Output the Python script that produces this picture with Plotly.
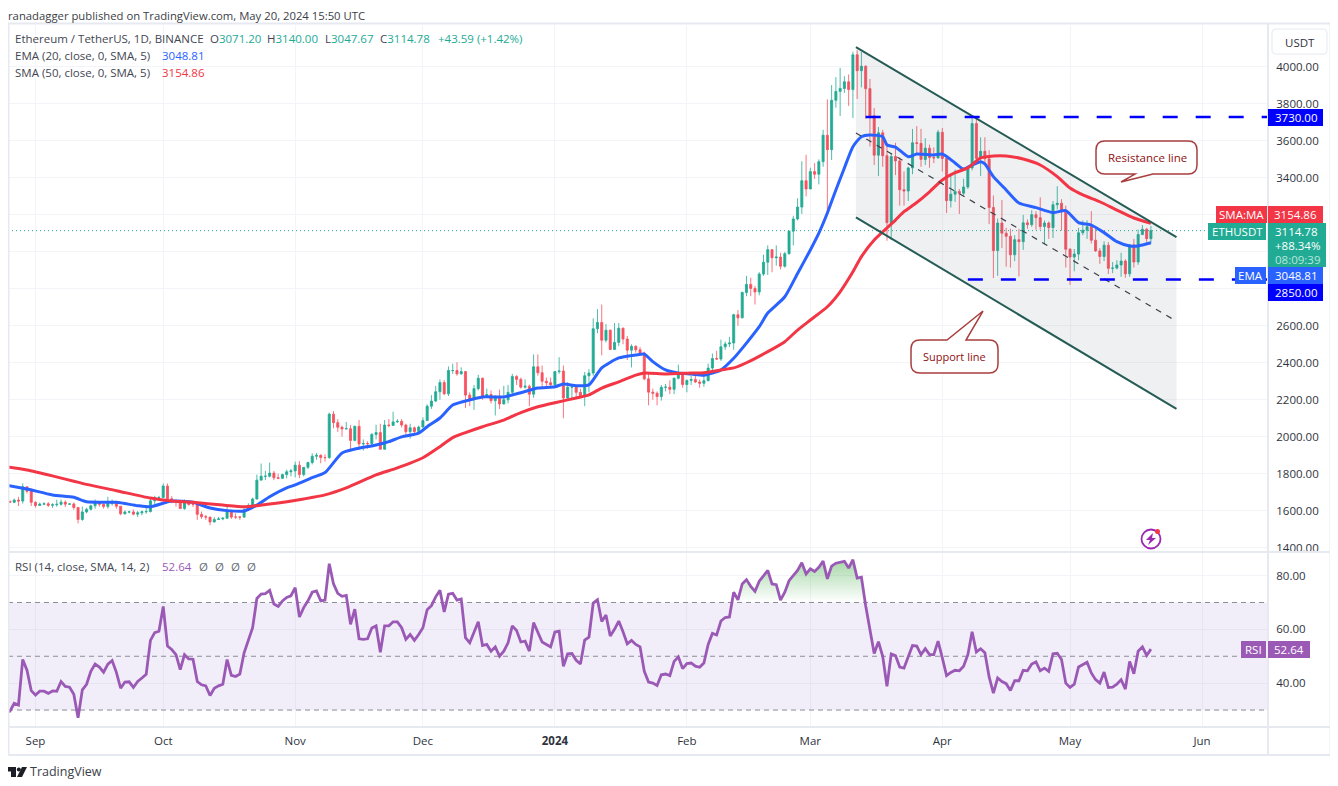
import pandas as pd
import plotly.graph_objects as go
from plotly.subplots import make_subplots

# ── Daily candles (2023-08-25 → 2024-05-20) ────────────────────────────────────
opens = [
    1662, 1651, 1645, 1657, 1652, 1729, 1705,
    1645, 1628, 1635, 1637, 1629, 1632, 1634, 1646, 1635, 1636, 1617, 1552, 1593, 1607, 1626, 1642, 1634, 1622, 1638, 1645, 1624, 1583, 1593, 1593, 1581, 1588, 1594, 1595, 1653, 1670,
    1671, 1733, 1664, 1656, 1647, 1611, 1646, 1633, 1633, 1580, 1567, 1565, 1539, 1552, 1555, 1559, 1600, 1565, 1565, 1565, 1604, 1628, 1663, 1765, 1786, 1786, 1803, 1778, 1775, 1795, 1810,
    1815, 1846, 1795, 1834, 1860, 1894, 1899, 1887, 1887, 2122, 2076, 2051, 2042, 2043, 1980, 2056, 1961, 1963, 1962, 2012, 2022, 1932, 2063, 2061, 2080, 2083, 2063, 2027, 2048, 2028,
    2052, 2087, 2165, 2193, 2243, 2293, 2232, 2358, 2358, 2340, 2352, 2225, 2202, 2260, 2316, 2220, 2228, 2195, 2218, 2177, 2200, 2240, 2326, 2310, 2268, 2273, 2230, 2378, 2346, 2300, 2292,
    2281, 2352, 2355, 2209, 2268, 2268, 2240, 2221, 2330, 2344, 2584, 2618, 2522, 2576, 2472, 2510, 2587, 2528, 2468, 2489, 2470, 2453, 2313, 2241, 2235, 2217, 2267, 2268, 2256, 2316, 2343,
    2282, 2304, 2309, 2296, 2289, 2303, 2371, 2423, 2420, 2486, 2502, 2507, 2660, 2643, 2780, 2824, 2802, 2783, 2880, 2944, 3012, 2968, 2972, 2922, 2990, 3112, 3178, 3242, 3385,
    3340, 3434, 3420, 3488, 3631, 3553, 3820, 3868, 3884, 3920, 3878, 4066, 3980, 4004, 3883, 3736, 3523, 3644, 3520, 3158, 3516, 3492, 3336, 3329, 3454, 3590, 3587, 3500, 3561, 3510, 3508,
    3647, 3505, 3277, 3312, 3327, 3317, 3351, 3454, 3694, 3506, 3544, 3503, 3240, 3007, 3156, 3101, 3084, 2984, 3066, 3055, 3157, 3147, 3201, 3185, 3137, 3156, 3131, 3255, 3263, 3216,
    3014, 2972, 2988, 3103, 3117, 3136, 3063, 3005, 2975, 3036, 2911, 2912, 2929, 2950, 2881, 3038, 2945, 3094, 3122, 3071.20,
]
highs = [
    1675, 1653, 1665, 1675, 1748, 1730, 1720,
    1650, 1644, 1645, 1646, 1640, 1659, 1660, 1655, 1641, 1644, 1620, 1622, 1616, 1632, 1660, 1648, 1638, 1675, 1660, 1650, 1624, 1602, 1600, 1606, 1598, 1600, 1630, 1670, 1680, 1680,
    1747, 1747, 1678, 1658, 1655, 1660, 1650, 1648, 1635, 1595, 1577, 1566, 1565, 1566, 1565, 1625, 1605, 1585, 1570, 1620, 1640, 1670, 1795, 1855, 1815, 1860, 1815, 1800, 1800, 1822, 1826,
    1865, 1868, 1835, 1865, 1910, 1912, 1905, 1905, 2130, 2138, 2095, 2060, 2080, 2063, 2060, 2090, 1985, 1975, 2020, 2065, 2070, 2090, 2095, 2135, 2095, 2095, 2070, 2070, 2055, 2060,
    2105, 2175, 2225, 2275, 2310, 2307, 2380, 2395, 2403, 2375, 2355, 2240, 2280, 2335, 2320, 2260, 2250, 2225, 2255, 2275, 2280, 2340, 2333, 2320, 2310, 2282, 2445, 2445, 2385, 2320, 2320,
    2355, 2430, 2385, 2295, 2285, 2270, 2260, 2350, 2365, 2640, 2690, 2715, 2610, 2580, 2615, 2615, 2590, 2545, 2500, 2495, 2485, 2460, 2350, 2260, 2245, 2280, 2285, 2305, 2320, 2390, 2350,
    2310, 2330, 2330, 2310, 2335, 2395, 2450, 2465, 2525, 2515, 2540, 2665, 2685, 2785, 2870, 2860, 2815, 2890, 2985, 3035, 3015, 3035, 2995, 3000, 3115, 3195, 3290, 3490, 3525,
    3455, 3480, 3500, 3660, 3825, 3902, 3945, 3995, 3950, 3960, 4083, 4090, 4081, 4010, 3935, 3778, 3675, 3660, 3590, 3535, 3590, 3510, 3435, 3460, 3665, 3680, 3665, 3615, 3580, 3565, 3660,
    3670, 3505, 3425, 3445, 3340, 3395, 3460, 3735, 3725, 3620, 3620, 3550, 3305, 3180, 3280, 3130, 3125, 3090, 3125, 3200, 3175, 3225, 3220, 3295, 3170, 3165, 3275, 3355, 3285, 3250,
    3020, 3015, 3130, 3170, 3170, 3220, 3125, 3020, 3057, 3053, 2945, 2955, 2995, 2960, 3040, 3070, 3120, 3145, 3130, 3140.00,
]
lows = [
    1640, 1642, 1640, 1625, 1638, 1693, 1625,
    1616, 1626, 1630, 1620, 1615, 1621, 1627, 1620, 1632, 1605, 1531, 1545, 1585, 1601, 1610, 1621, 1610, 1610, 1627, 1610, 1575, 1578, 1585, 1575, 1565, 1575, 1583, 1590, 1620, 1665,
    1667, 1650, 1640, 1622, 1610, 1605, 1627, 1620, 1550, 1555, 1550, 1521, 1535, 1549, 1548, 1555, 1555, 1555, 1550, 1560, 1600, 1610, 1660, 1765, 1765, 1780, 1765, 1770, 1770, 1775, 1785,
    1780, 1775, 1785, 1825, 1850, 1875, 1856, 1865, 1880, 2045, 2026, 2000, 2042, 1930, 1975, 1930, 1925, 1935, 1950, 1985, 1930, 1930, 2050, 2060, 2075, 2050, 2000, 1990, 2020, 2020,
    2050, 2085, 2150, 2187, 2200, 2225, 2220, 2340, 2330, 2335, 2155, 2165, 2145, 2250, 2200, 2215, 2180, 2115, 2150, 2175, 2180, 2230, 2280, 2260, 2260, 2165, 2210, 2330, 2260, 2270, 2260,
    2265, 2340, 2100, 2205, 2200, 2210, 2210, 2165, 2240, 2330, 2560, 2440, 2510, 2470, 2470, 2490, 2500, 2415, 2375, 2455, 2450, 2305, 2170, 2200, 2170, 2195, 2245, 2230, 2230, 2310, 2265,
    2240, 2280, 2290, 2265, 2270, 2300, 2340, 2415, 2410, 2470, 2485, 2470, 2600, 2640, 2760, 2760, 2715, 2765, 2870, 2875, 2890, 2925, 2905, 2915, 2985, 3035, 3170, 3205, 3300,
    3340, 3395, 3365, 3460, 3200, 3497, 3780, 3735, 3860, 3790, 3724, 3827, 3890, 3720, 3570, 3470, 3410, 3460, 3060, 3064, 3415, 3250, 3250, 3275, 3420, 3530, 3460, 3470, 3455, 3480, 3505,
    3435, 3210, 3240, 3270, 3205, 3305, 3340, 3440, 3480, 3410, 3475, 3150, 2858, 2870, 3020, 2920, 2915, 2950, 2867, 3010, 3125, 3135, 3120, 3120, 3040, 3070, 3075, 3230, 3115, 2915,
    2821, 2895, 2955, 3090, 3070, 3045, 3000, 2935, 2950, 2880, 2885, 2905, 2865, 2860, 2865, 2915, 2930, 3090, 3050, 3047.67,
]
closes = [
    1651, 1645, 1657, 1652, 1729, 1705, 1645,
    1628, 1635, 1637, 1629, 1632, 1634, 1646, 1635, 1636, 1617, 1552, 1593, 1607, 1626, 1642, 1634, 1622, 1638, 1645, 1624, 1583, 1593, 1593, 1581, 1588, 1594, 1595, 1653, 1670, 1671,
    1733, 1664, 1656, 1647, 1611, 1646, 1633, 1633, 1580, 1567, 1565, 1539, 1552, 1555, 1559, 1600, 1565, 1565, 1565, 1604, 1628, 1663, 1765, 1786, 1786, 1803, 1778, 1775, 1795, 1810, 1815,
    1846, 1795, 1834, 1860, 1894, 1899, 1887, 1887, 2122, 2076, 2051, 2042, 2043, 1980, 2056, 1961, 1963, 1962, 2012, 2022, 1932, 2063, 2061, 2080, 2083, 2063, 2027, 2048, 2028, 2052,
    2087, 2165, 2193, 2243, 2293, 2232, 2358, 2358, 2340, 2352, 2225, 2202, 2260, 2316, 2220, 2228, 2195, 2218, 2177, 2200, 2240, 2326, 2310, 2268, 2273, 2230, 2378, 2346, 2300, 2292, 2281,
    2352, 2355, 2209, 2268, 2268, 2240, 2221, 2330, 2344, 2584, 2618, 2522, 2576, 2472, 2510, 2587, 2528, 2468, 2489, 2470, 2453, 2313, 2241, 2235, 2217, 2267, 2268, 2256, 2316, 2343, 2282,
    2304, 2309, 2296, 2289, 2303, 2371, 2423, 2420, 2486, 2502, 2507, 2660, 2643, 2780, 2824, 2802, 2783, 2880, 2944, 3012, 2968, 2972, 2922, 2990, 3112, 3178, 3242, 3385, 3340,
    3434, 3420, 3488, 3631, 3553, 3820, 3868, 3884, 3920, 3878, 4066, 3980, 4004, 3883, 3736, 3523, 3644, 3520, 3158, 3516, 3492, 3336, 3329, 3454, 3590, 3587, 3500, 3561, 3510, 3508, 3647,
    3505, 3277, 3312, 3327, 3317, 3351, 3454, 3694, 3506, 3544, 3503, 3240, 3007, 3156, 3101, 3084, 2984, 3066, 3055, 3157, 3147, 3201, 3185, 3137, 3156, 3131, 3255, 3263, 3216, 3014,
    2972, 2988, 3103, 3117, 3136, 3063, 3005, 2975, 3036, 2911, 2912, 2929, 2950, 2881, 3038, 2945, 3094, 3122, 3071.20, 3114.78,
]
rsi = [
    29.4, 29.6, 32.5, 31.9, 48.8, 44.8, 37.2,
    35.6, 37, 37, 36.2, 37.1, 37, 40.6, 38.8, 38.5, 35.9, 27.1, 37.5, 39.6, 44.4, 47.1, 46, 44.1, 47.1, 48.4, 44, 38.1, 40.4, 40.5, 38.4, 40.6, 41.9, 43.3, 55.9, 58.8, 59.3,
    68.5, 53.8, 52.5, 50.6, 45, 50.6, 49, 48.9, 40.6, 39.4, 39, 35.4, 38.1, 39, 39.6, 48.8, 42.9, 42.5, 43.4, 51.3, 56.3, 60.6, 71.5, 73.1, 73.3, 74.5, 69.4, 68.5, 70.6, 71.9, 72.5,
    75.5, 64.6, 68.1, 70.6, 73.8, 74.3, 70.6, 70.9, 84.4, 76.9, 73.4, 72.3, 72.6, 61.9, 67.5, 56.5, 56.3, 56.5, 60.5, 61.3, 51.5, 61.3, 61.3, 62.8, 62.8, 60.6, 56.3, 58.1, 55.9, 58.1,
    60.6, 67.3, 68.8, 72.1, 74.5, 66.5, 73.1, 73.4, 70.9, 71.3, 56.9, 55, 59, 62.8, 54, 54.4, 51.9, 53.5, 50, 51.9, 55, 61.3, 59.6, 55.3, 55.6, 51.9, 62.5, 58.8, 55.3, 54.4, 53.5,
    59, 59.3, 46.3, 50.9, 51, 48.5, 47.1, 56, 57.1, 69.8, 71, 62.9, 65.3, 57.5, 60, 63.1, 59.1, 54.6, 55.9, 54.4, 53.5, 44.4, 40.4, 40, 39.1, 43.1, 43.4, 42.8, 48.1, 49.8, 45.4,
    47.3, 47.5, 46.3, 45.9, 47.5, 54.4, 58.5, 57.9, 63.1, 64.4, 64.6, 73.8, 71, 76.9, 78.5, 76, 74.1, 77.9, 80, 81.9, 76.9, 76.6, 70.9, 73.8, 78.1, 80, 81.9, 84.8, 80.6,
    82.5, 81.5, 83.1, 85.4, 78.8, 83.5, 84.6, 85, 85.3, 82.8, 85.9, 79.1, 79.4, 68.8, 60, 51, 55.4, 50, 38.8, 50.9, 50.3, 46, 45.6, 49.8, 54, 53.8, 50.6, 52.8, 50.6, 50.6, 55.6,
    49.4, 42.8, 44, 44.8, 44.6, 46.3, 50.6, 59.1, 51.6, 52.8, 51.3, 42.3, 36.3, 41.9, 40.6, 39.8, 37.3, 40.9, 40.9, 44.8, 44.6, 47.1, 47.9, 44.6, 45.6, 44.4, 50.9, 51.1, 48.8, 40,
    38.4, 39.6, 46, 46.9, 47.8, 43.8, 41.3, 40, 44.1, 38.4, 38.5, 39.6, 41.3, 37.8, 48.1, 43.5, 51.9, 53.5, 50.3, 52.64,
]
dates = pd.date_range("2023-08-25", periods=len(closes), freq="D")

# ── Moving averages, sampled along the drawn lines ─────────────────────────────
ema_dates = [
    "2023-08-25", "2023-08-30", "2023-09-05", "2023-09-10", "2023-09-13", "2023-09-20", "2023-09-25", "2023-09-28",
    "2023-10-03", "2023-10-08", "2023-10-12", "2023-10-16", "2023-10-20", "2023-10-23", "2023-10-26", "2023-10-30",
    "2023-11-01", "2023-11-05", "2023-11-08", "2023-11-12", "2023-11-15", "2023-11-20", "2023-11-23", "2023-11-26",
    "2023-11-30", "2023-12-02", "2023-12-05", "2023-12-08", "2023-12-11", "2023-12-15", "2023-12-20", "2023-12-24",
    "2023-12-28", "2024-01-01", "2024-01-03", "2024-01-06", "2024-01-09", "2024-01-12", "2024-01-16", "2024-01-20",
    "2024-01-22", "2024-01-24", "2024-01-27", "2024-01-30", "2024-02-02", "2024-02-05", "2024-02-07", "2024-02-09",
    "2024-02-12", "2024-02-15", "2024-02-18", "2024-02-20", "2024-02-24", "2024-02-27", "2024-03-01", "2024-03-03",
    "2024-03-05", "2024-03-07", "2024-03-09", "2024-03-11", "2024-03-13", "2024-03-15", "2024-03-18", "2024-03-19",
    "2024-03-21", "2024-03-24", "2024-03-26", "2024-03-30", "2024-04-01", "2024-04-04", "2024-04-06", "2024-04-08",
    "2024-04-10", "2024-04-11", "2024-04-13", "2024-04-16", "2024-04-19", "2024-04-23", "2024-04-27", "2024-04-30",
    "2024-05-03", "2024-05-06", "2024-05-09", "2024-05-12", "2024-05-15", "2024-05-17", "2024-05-20",
]
ema_values = [
    1738, 1717, 1685, 1672, 1648, 1645, 1627, 1621,
    1652, 1645, 1614, 1600, 1598, 1630, 1675, 1723,
    1739, 1778, 1806, 1912, 1933, 1955, 1973, 1999,
    2019, 2054, 2101, 2171, 2193, 2215, 2215, 2238,
    2263, 2270, 2285, 2276, 2280, 2372, 2426, 2442,
    2447, 2406, 2361, 2344, 2339, 2333, 2344, 2361,
    2424, 2506, 2595, 2669, 2757, 2883, 3010, 3101,
    3210, 3335, 3454, 3569, 3623, 3632, 3623, 3578,
    3567, 3515, 3529, 3524, 3529, 3481, 3448, 3470,
    3488, 3476, 3407, 3335, 3264, 3239, 3212, 3223,
    3158, 3145, 3104, 3055, 3032, 3032, 3048.81,
]
sma_dates = [
    "2023-08-25", "2023-08-30", "2023-09-05", "2023-09-13", "2023-09-20", "2023-09-28", "2023-10-03", "2023-10-08",
    "2023-10-15", "2023-10-20", "2023-10-23", "2023-10-28", "2023-11-03", "2023-11-08", "2023-11-13", "2023-11-20",
    "2023-11-25", "2023-12-01", "2023-12-05", "2023-12-08", "2023-12-11", "2023-12-15", "2023-12-20", "2023-12-24",
    "2023-12-28", "2024-01-01", "2024-01-06", "2024-01-09", "2024-01-12", "2024-01-16", "2024-01-20", "2024-01-22",
    "2024-01-27", "2024-02-02", "2024-02-05", "2024-02-09", "2024-02-12", "2024-02-15", "2024-02-20", "2024-02-24",
    "2024-02-27", "2024-03-01", "2024-03-05", "2024-03-08", "2024-03-11", "2024-03-13", "2024-03-16", "2024-03-19",
    "2024-03-21", "2024-03-23", "2024-03-26", "2024-03-29", "2024-04-01", "2024-04-04", "2024-04-07", "2024-04-10",
    "2024-04-13", "2024-04-16", "2024-04-20", "2024-04-24", "2024-04-28", "2024-05-01", "2024-05-04", "2024-05-08",
    "2024-05-12", "2024-05-16", "2024-05-20",
]
sma_values = [
    1838, 1820, 1788, 1742, 1708, 1668, 1652, 1645,
    1630, 1621, 1627, 1641, 1663, 1685, 1723, 1793,
    1831, 1886, 1946, 1995, 2022, 2054, 2090, 2130,
    2162, 2184, 2209, 2226, 2263, 2297, 2333, 2344,
    2339, 2344, 2346, 2361, 2372, 2400, 2460, 2514,
    2577, 2631, 2703, 2784, 2892, 2974, 3064, 3129,
    3172, 3217, 3267, 3325, 3389, 3428, 3454, 3508,
    3519, 3519, 3502, 3470, 3407, 3345, 3308, 3271,
    3226, 3183, 3154.86,
]

# ── Drawn levels and channel ───────────────────────────────────────────────────
channel_dates = ["2024-03-11 17:00", "2024-05-26"]
channel_upper = [4108, 3080]
channel_lower = [3187, 2150]
channel_mid_dates = ["2024-03-11 17:00", "2024-05-25 12:00"]
channel_mid = [3643, 2631]
resistance_start = "2024-03-14"
resistance_level = 3730
support_start = "2024-04-07"
support_level = 2850
last_close = 3114.78

# ── Axes ───────────────────────────────────────────────────────────────────────
x_start = "2023-08-25 13:00"
x_end = "2024-06-16 12:00"
month_ticks = ["2023-09-01", "2023-10-01", "2023-11-01", "2023-12-01", "2024-01-01",
               "2024-02-01", "2024-03-01", "2024-04-01", "2024-05-01", "2024-06-01"]
month_labels = ["Sep", "Oct", "Nov", "Dec", "<b>2024</b>", "Feb", "Mar", "Apr", "May", "Jun"]
price_ticks = [1400, 1600, 1800, 2000, 2200, 2400, 2600, 2800, 3000, 3200, 3400, 3600, 3800, 4000]
hidden_price_labels = [2800, 3000, 3200]  # sit behind the axis tags in the reference
rsi_ticks = [40, 60, 80]
rsi_levels = [70, 50, 30]

GREEN = "#22ab94"
RED = "#f7525f"
BLUE = "#2962ff"
SMA_RED = "#f23645"
PURPLE = "#9b59b6"
LINE_BLUE = "#0000ff"
TEAL = "#255b55"
GRID = "#f3f4f7"
FRAME = "#e6e9f0"
TEXT = "#434651"
AXIS_TEXT = "#2f3340"
FONT = "Open Sans"

# the page keeps an 8px body margin, and the photo squeezes it by about 790:786
W, H = 1322, 778
PAGE_STRETCH = 790 / 786


def px(x):
    return (x - 8) / W


def py(y):
    return 1 - (y * PAGE_STRETCH - 8) / H


def path(*parts):
    """Build an SVG path from commands and (x, y) page pixels."""
    out = []
    for p in parts:
        out.append(p if isinstance(p, str) else f"{px(p[0]):.5f},{py(p[1]):.5f}")
    return " ".join(out)


fig = make_subplots(rows=2, cols=1, shared_xaxes=True)

# channel fill and RSI band go first so the candles sit on top
fig.add_trace(go.Scatter(
    x=channel_dates + channel_dates[::-1],
    y=channel_upper + channel_lower[::-1],
    fill="toself", fillcolor="rgba(100,110,130,0.10)", mode="none", hoverinfo="skip",
), row=1, col=1)
fig.add_trace(go.Scatter(
    x=[x_start, x_end], y=[last_close, last_close], mode="lines",
    line=dict(color=GREEN, width=1, dash="1px,3px"), hoverinfo="skip",
), row=1, col=1)
fig.add_trace(go.Candlestick(
    x=dates, open=opens, high=highs, low=lows, close=closes,
    increasing=dict(line=dict(color=GREEN, width=0.8), fillcolor=GREEN),
    decreasing=dict(line=dict(color=RED, width=0.8), fillcolor=RED),
), row=1, col=1)
fig.add_trace(go.Scatter(x=ema_dates, y=ema_values, mode="lines",
                         line=dict(color=BLUE, width=3, shape="spline", smoothing=0.6)), row=1, col=1)
fig.add_trace(go.Scatter(x=sma_dates, y=sma_values, mode="lines",
                         line=dict(color=SMA_RED, width=3, shape="spline", smoothing=0.6)), row=1, col=1)
for upper_or_lower in (channel_upper, channel_lower):
    fig.add_trace(go.Scatter(x=channel_dates, y=upper_or_lower, mode="lines",
                             line=dict(color=TEAL, width=2)), row=1, col=1)
fig.add_trace(go.Scatter(x=channel_mid_dates, y=channel_mid, mode="lines",
                         line=dict(color="#3c3f48", width=1.2, dash="6px,6px")), row=1, col=1)
for start, level in ((resistance_start, resistance_level), (support_start, support_level)):
    fig.add_trace(go.Scatter(x=[start, x_end], y=[level, level], mode="lines",
                             line=dict(color=LINE_BLUE, width=2.5, dash="15px,18px")), row=1, col=1)

# RSI pane
fig.add_trace(go.Scatter(
    x=[x_start, x_end, x_end, x_start], y=[70, 70, 30, 30],
    fill="toself", fillcolor="rgba(126,87,194,0.10)", mode="none", hoverinfo="skip",
), row=2, col=1)
for level in rsi_levels:
    fig.add_trace(go.Scatter(x=[x_start, x_end], y=[level, level], mode="lines",
                             line=dict(color="#8a8d96", width=1, dash="5px,4px")), row=2, col=1)
# overbought glow: barely there in 2023, strong from February on
split = list(dates).index(pd.Timestamp("2024-01-01"))
for part, alpha in ((range(0, split), 0.10), (range(split, len(rsi)), 0.5)):
    part_dates = [dates[i] for i in part]
    fig.add_trace(go.Scatter(x=part_dates, y=[70] * len(part_dates), mode="lines", line=dict(width=0),
                             hoverinfo="skip"), row=2, col=1)
    fig.add_trace(go.Scatter(
        x=part_dates, y=[max(rsi[i], 70) for i in part], mode="lines", line=dict(width=0), hoverinfo="skip",
        fill="tonexty",
        fillgradient=dict(type="vertical",
                          colorscale=[[0, "rgba(76,175,80,0.0)"], [1, f"rgba(76,175,80,{alpha})"]]),
    ), row=2, col=1)
fig.add_trace(go.Scatter(x=dates, y=rsi, mode="lines", line=dict(color=PURPLE, width=2.8)), row=2, col=1)

# ── Text and tags ──────────────────────────────────────────────────────────────
annotations = []
shapes = []


def label(x, y, text, size=11.5, color=TEXT, anchor="left"):
    annotations.append(dict(
        x=px(x), y=py(y), xref="paper", yref="paper", text=text, showarrow=False,
        xanchor=anchor, yanchor="middle", align=anchor, xshift=0, borderpad=0, borderwidth=0,
        font=dict(family=FONT, size=size, color=color),
    ))


def tag(x0, x1, y0, y1, color, text, text_color="white"):
    shapes.append(dict(type="rect", xref="paper", yref="paper", x0=px(x0), x1=px(x1),
                       y0=py(y1), y1=py(y0), fillcolor=color, line=dict(width=0), layer="above"))
    if text:
        label((x0 + x1) / 2, (y0 + y1) / 2, text, size=11.5, color=text_color, anchor="center")


def num(text, color=GREEN):
    return f'<span style="color:{color}">{text}</span>'


# frame and pane separators
shapes.append(dict(type="rect", xref="paper", yref="paper", x0=px(8.5), x1=px(1330.5),
                   y0=py(755), y1=py(23.5), line=dict(color=FRAME, width=2), layer="above"))
for yy in (552, 727):
    shapes.append(dict(type="line", xref="paper", yref="paper", x0=px(8.5), x1=px(1330.5),
                       y0=py(yy), y1=py(yy), line=dict(color=FRAME, width=2), layer="above"))
shapes.append(dict(type="line", xref="paper", yref="paper", x0=px(1268), x1=px(1268),
                   y0=py(755), y1=py(23.5), line=dict(color=FRAME, width=2), layer="above"))

label(8, 15.5, "ranadagger published on TradingView.com, May 20, 2024 15:50 UTC", size=11.3, color="#3b3e47")
label(15, 38, "Ethereum / TetherUS, 1D, BINANCE")
label(210, 38, "O" + num("3071.20"))
label(267, 38, "H" + num("3140.00"))
label(325, 38, "L" + num("3047.67"))
label(380, 38, "C" + num("3114.78"))
label(438, 38, num("+43.59 (+1.42%)"))
label(15, 55, "EMA (20, close, 0, SMA, 5)")
label(162, 55, num("3048.81", BLUE))
label(15, 72, "SMA (50, close, 0, SMA, 5)")
label(162, 72, num("3154.86", SMA_RED))
label(15, 567, "RSI (14, close, SMA, 14, 2)")
label(162, 567, num("52.64", PURPLE))
for xx in (199, 215, 231, 247):
    label(xx, 567, "Ø", color="#6a6d78")

# USDT button
shapes.append(dict(type="path", xref="paper", yref="paper", layer="above",
                   path=path("M", (1276, 29), "L", (1323, 29), "Q", (1327, 29), (1327, 33), "L", (1327, 50),
                             "Q", (1327, 54), (1323, 54), "L", (1276, 54), "Q", (1272, 54), (1272, 50),
                             "L", (1272, 33), "Q", (1272, 29), (1276, 29), "Z"),
                   fillcolor="white", line=dict(color=FRAME, width=1)))
label(1299.5, 42, "USDT", color=AXIS_TEXT, anchor="center")

# price tags on the axis
tag(1268, 1323, 109, 126, LINE_BLUE, "3730.00")
tag(1216, 1267, 206, 223, SMA_RED, "SMA:MA")
tag(1268, 1323, 206, 223, SMA_RED, "3154.86")
tag(1208, 1266, 223, 240, GREEN, "ETHUSDT")
tag(1268, 1326, 223, 267, GREEN, "")
label(1275, 231, "3114.78", color="white")
label(1275, 245, "+88.34%", color="white")
label(1275, 259, "08:09:39", color="#b6e6dd")
tag(1235, 1266, 267, 284, BLUE, "EMA")
tag(1268, 1323, 267, 284, BLUE, "3048.81")
tag(1268, 1323, 284, 301, LINE_BLUE, "2850.00")
tag(1241, 1266, 641, 658, PURPLE, "RSI")
tag(1268, 1310, 641, 658, PURPLE, "52.64")

# callouts
CALLOUT_LINE = dict(color="#a83e3e", width=1.5)
shapes.append(dict(type="path", xref="paper", yref="paper", layer="above", fillcolor="white", line=CALLOUT_LINE,
                   path=path("M", (1105, 141), "L", (1188, 141), "Q", (1197, 141), (1197, 150), "L", (1197, 165),
                             "Q", (1197, 174), (1188, 174), "L", (1153, 174), "L", (1121, 182), "L", (1135, 174),
                             "L", (1105, 174), "Q", (1096, 174), (1096, 165), "L", (1096, 150),
                             "Q", (1096, 141), (1105, 141), "Z")))
label(1147, 157, "Resistance line", size=11.5, color="#8e1010", anchor="center")
shapes.append(dict(type="path", xref="paper", yref="paper", layer="above", fillcolor="white", line=CALLOUT_LINE,
                   path=path("M", (920, 340), "L", (947, 340), "L", (983, 311), "L", (966, 340), "L", (989, 340),
                             "Q", (998, 340), (998, 349), "L", (998, 364), "Q", (998, 373), (989, 373),
                             "L", (920, 373), "Q", (911, 373), (911, 364), "L", (911, 349),
                             "Q", (911, 340), (920, 340), "Z")))
label(954.5, 356, "Support line", size=11, color="#8e1010", anchor="center")

# lightning icon
shapes.append(dict(type="circle", xref="paper", yref="paper", layer="above",
                   x0=px(1141.5), x1=px(1160.5), y0=py(548.5), y1=py(529.5),
                   line=dict(color="#9c27b0", width=1.8)))
shapes.append(dict(type="path", xref="paper", yref="paper", layer="above", fillcolor="#9c27b0", line=dict(width=0),
                   path=path("M", (1153, 533), "L", (1146, 540), "L", (1150, 540), "L", (1148, 545),
                             "L", (1156, 538), "L", (1152, 538), "Z")))
shapes.append(dict(type="circle", xref="paper", yref="paper", layer="above",
                   x0=px(1155), x1=px(1160), y0=py(534), y1=py(529),
                   fillcolor="#f23645", line=dict(width=0)))

# TradingView logo
shapes.append(dict(type="path", xref="paper", yref="paper", layer="above", fillcolor="#1c1f26", line=dict(width=0),
                   path=path("M", (8, 767), "L", (16, 767), "L", (16, 777), "L", (11, 777), "L", (11, 771.5),
                             "L", (8, 771.5), "Z")))
shapes.append(dict(type="circle", xref="paper", yref="paper", layer="above", fillcolor="#1c1f26", line=dict(width=0),
                   x0=px(16.8), x1=px(20.8), y0=py(771.5), y1=py(767.5)))
shapes.append(dict(type="path", xref="paper", yref="paper", layer="above", fillcolor="#1c1f26", line=dict(width=0),
                   path=path("M", (22, 767), "L", (27, 767), "L", (22, 777), "L", (17, 777), "Z")))
label(30, 771.5, "TradingView", size=12.5, color="#3b3e47")

# ── Layout ─────────────────────────────────────────────────────────────────────
fig.update_layout(
    width=W, height=H,
    margin=dict(l=0, r=0, t=0, b=0),
    paper_bgcolor="white", plot_bgcolor="white",
    showlegend=False,
    annotations=annotations,
    shapes=shapes,
    font=dict(family=FONT, size=11.5, color=AXIS_TEXT),
)
x_axis = dict(
    domain=[px(8), px(1268)], range=[x_start, x_end], type="date",
    tickvals=month_ticks, ticktext=month_labels, showgrid=True, gridcolor=GRID, gridwidth=1,
    zeroline=False, rangeslider=dict(visible=False),
)
fig.update_xaxes(**x_axis, showticklabels=False, row=1, col=1)
fig.update_xaxes(**x_axis, showticklabels=True, ticks="outside", ticklen=3,
                 tickcolor="rgba(0,0,0,0)", tickfont=dict(family=FONT, size=11.5, color=AXIS_TEXT),
                 row=2, col=1)
fig.update_yaxes(domain=[py(551), py(25)], range=[1381.6, 4227], side="right",
                 tickvals=price_ticks,
                 ticktext=["" if v in hidden_price_labels else f"{v:.2f}" for v in price_ticks],
                 showgrid=True, gridcolor=GRID, zeroline=False, ticks="outside", ticklen=5,
                 tickcolor="rgba(0,0,0,0)", tickfont=dict(family=FONT, size=11.5, color=AXIS_TEXT),
                 row=1, col=1)
fig.update_yaxes(domain=[py(727), py(553)], range=[23.7, 88.4], side="right",
                 tickvals=rsi_ticks, ticktext=[f"{v:.2f}" for v in rsi_ticks],
                 showgrid=True, gridcolor=GRID, zeroline=False, ticks="outside", ticklen=5,
                 tickcolor="rgba(0,0,0,0)", tickfont=dict(family=FONT, size=11.5, color=AXIS_TEXT),
                 row=2, col=1)

fig.write_html("out.html")
